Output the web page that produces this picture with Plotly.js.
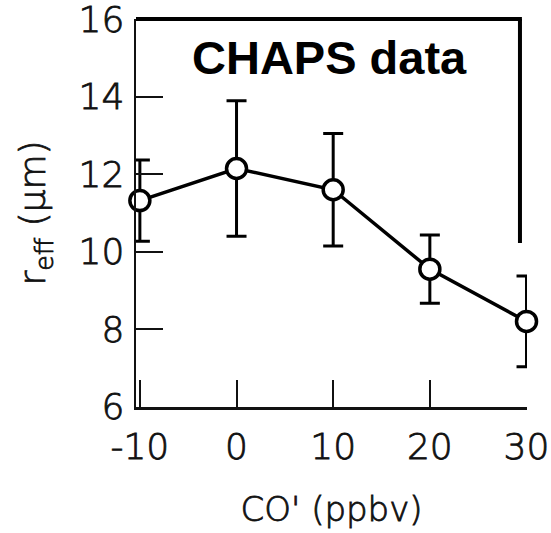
<!DOCTYPE html>
<html>
<head>
<meta charset="utf-8">
<script src="https://cdn.plot.ly/plotly-3.0.1.min.js"></script>
<style>
html,body{margin:0;padding:0;background:#fff;}
#chart{width:551px;height:533px;}
#chart .xtick text, #chart .ytick text, #chart .g-xtitle text, #chart .g-ytitle text {stroke:#111; stroke-width:0.8px;}
</style>
</head>
<body>
<div id="chart"></div>
<script>
const coPrime = [-10, 0, 10, 20, 30];
const rEff = [11.32, 12.15, 11.6, 9.55, 8.2];
const rEffErr = [1.05, 1.75, 1.45, 0.88, 1.17];
const xTicks = [-10, 0, 10, 20, 30];
const yTicks = [6, 8, 10, 12, 14, 16];

const trace = {
  x: coPrime,
  y: rEff,
  type: 'scatter',
  mode: 'lines+markers',
  line: {color: '#000', width: 3.5},
  marker: {symbol: 'circle', size: 20, color: '#fff', line: {color: '#000', width: 3.5}},
  error_y: {type: 'data', array: rEffErr, visible: true, color: '#000', thickness: 3, width: 10},
  cliponaxis: false,
  showlegend: false
};

const fam = 'DejaVu Sans, sans-serif';
const tickFont = {family: fam, size: 36, color: '#111', weight: 200};
const layout = {
  width: 551, height: 533,
  margin: {l: 136, r: 24, t: 19, b: 126},
  paper_bgcolor: '#fff', plot_bgcolor: '#fff',
  xaxis: {
    range: [-10.4, 30.05], tickvals: xTicks, ticktext: xTicks.map(String),
    ticks: 'inside', ticklen: 27, tickwidth: 2, tickcolor: '#111',
    showline: true, linecolor: '#111', linewidth: 2.5, showgrid: false, zeroline: false,
    tickfont: tickFont, ticklabelstandoff: 6, ticklabeloverflow: 'allow',
    title: {text: "CO' (ppbv)", font: {family: fam, size: 34, color: '#111', weight: 200}, standoff: 32}
  },
  yaxis: {
    range: [5.99, 16.01], tickvals: yTicks, ticktext: yTicks.map(String),
    ticks: 'inside', ticklen: 27, tickwidth: 2, tickcolor: '#111',
    showline: true, linecolor: '#111', linewidth: 2.5, showgrid: false, zeroline: false,
    tickfont: tickFont, ticklabelstandoff: 2, ticklabeloverflow: 'allow',
    title: {text: 'r<sub>eff</sub> (μm)', font: {family: fam, size: 36, color: '#111', weight: 200}, standoff: 22}
  },
  shapes: [
    {type: 'line', xref: 'paper', yref: 'paper', x0: 0, x1: 0.987, y0: 1, y1: 1, line: {color: '#000', width: 4}},
    {type: 'line', xref: 'paper', yref: 'paper', x0: 0.982, x1: 0.982, y0: 1, y1: 0.423, line: {color: '#000', width: 4}}
  ],
  annotations: [
    {text: '<b>CHAPS data</b>', xref: 'paper', yref: 'paper', x: 0.495, y: 0.9, xanchor: 'center', yanchor: 'middle',
     showarrow: false, font: {family: 'Liberation Sans, Arial, sans-serif', size: 47, color: '#000'}}
  ]
};

Plotly.newPlot('chart', [trace], layout, {displayModeBar: false, staticPlot: true});
</script>
</body>
</html>
